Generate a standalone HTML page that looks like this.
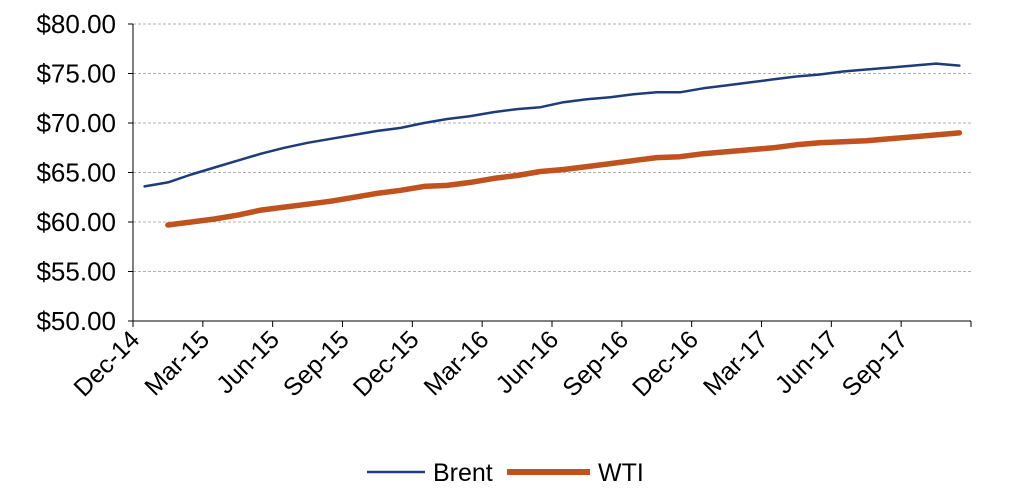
<!DOCTYPE html>
<html><head><meta charset="utf-8"><style>
html,body{margin:0;padding:0;background:#fff;}
svg{display:block;font-family:"Liberation Sans",Arial,sans-serif;}
</style></head><body>
<svg id="chart" width="1018" height="503" viewBox="0 0 1018 503" xmlns="http://www.w3.org/2000/svg">
<g id="grid"></g>
<g id="yaxis"></g>
<g id="xaxis"></g>
<g id="series"></g>
<g>
  <g>
    <line x1="367" y1="472" x2="425" y2="472" stroke="#1f3c7a" stroke-width="2.5"/>
    <text x="433" y="481" font-size="25" fill="#000">Brent</text>
  </g>
  <g>
    <line x1="507" y1="472" x2="590" y2="472" stroke="#c0521f" stroke-width="6"/>
    <text x="598" y="481" font-size="25" fill="#000">WTI</text>
  </g>
</g>
</svg>
<script>
const yTicks=[50,55,60,65,70,75,80];
const xTickLabels=["Dec-14","Mar-15","Jun-15","Sep-15","Dec-15","Mar-16","Jun-16","Sep-16","Dec-16","Mar-17","Jun-17","Sep-17"];
const brent=[63.6,64.0,64.8,65.5,66.2,66.9,67.5,68.0,68.4,68.8,69.2,69.5,70.0,70.4,70.7,71.1,71.4,71.6,72.1,72.4,72.6,72.9,73.1,73.1,73.5,73.8,74.1,74.4,74.7,74.9,75.2,75.4,75.6,75.8,76.0,75.8];
const wti=[null,59.7,60.0,60.3,60.7,61.2,61.5,61.8,62.1,62.5,62.9,63.2,63.6,63.7,64.0,64.4,64.7,65.1,65.3,65.6,65.9,66.2,66.5,66.6,66.9,67.1,67.3,67.5,67.8,68.0,68.1,68.2,68.4,68.6,68.8,69.0];
const NS="http://www.w3.org/2000/svg";
const X0=133,X1=971,Y0=321,Y1=24,months=36;
const y=v=>Y0-(v-50)/30*(Y0-Y1);
const xm=m=>X0+(X1-X0)*m/months;
function mk(t,a,p){const e=document.createElementNS(NS,t);for(const k in a)e.setAttribute(k,a[k]);p.appendChild(e);return e;}
const grid=document.getElementById('grid'),ya=document.getElementById('yaxis'),xa=document.getElementById('xaxis'),ser=document.getElementById('series');
yTicks.forEach(v=>{
  if(v>50){const g=mk('line',{x1:X0,x2:X1,y1:y(v),y2:y(v),stroke:'#b0b0b0','stroke-dasharray':'3,2','stroke-width':1},grid);
  
  }
  const tk=mk('line',{x1:X0-5,x2:X0,y1:y(v),y2:y(v),stroke:'#000'},ya);
  
  
  const t=mk('text',{x:116,y:y(v)+9,'text-anchor':'end','font-size':26},ya);
  
  
  t.textContent='$'+v.toFixed(2);
});
const yl=mk('line',{x1:X0,x2:X0,y1:Y1,y2:Y0,stroke:'#000'},ya);


const xl=mk('line',{x1:X0,x2:X1,y1:Y0,y2:Y0,stroke:'#000'},xa);


for(let i=0;i<=12;i++){
  const tk=mk('line',{x1:xm(i*3),x2:xm(i*3),y1:Y0,y2:Y0+6,stroke:'#000'},xa);
  
  
}
xTickLabels.forEach((l,i)=>{
  const px=xm(i*3)+8,py=Y0+20;
  const t=mk('text',{x:px,y:py,'text-anchor':'end','font-size':25,transform:`rotate(-45 ${px} ${py})`},xa);
  
  
  t.textContent=l;
});
function line(data,color,w,name){
  const pts=[];data.forEach((v,i)=>{if(v!=null)pts.push(xm(i+0.5).toFixed(1)+','+y(v).toFixed(1));});
  const p=mk('polyline',{points:pts.join(' '),fill:'none',stroke:color,'stroke-width':w,'stroke-linejoin':'round','stroke-linecap':'round'},ser);
  
  
}
line(brent,'#1f3c7a',2.5,'brent-line');
line(wti,'#c0521f',5.5,'wti-line');
</script>
</body></html>
